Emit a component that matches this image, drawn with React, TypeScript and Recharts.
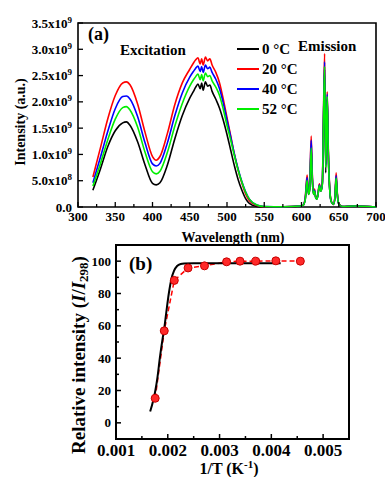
import React from 'react';
import { LineChart, Line, XAxis, YAxis, ReferenceArea, Legend } from 'recharts';

const SERIF = '"Liberation Serif", "Times New Roman", serif';

// (a) excitation / emission spectra, intensity in units of 1e9 a.u.
const wavelength = [
  320, 330, 340, 350, 360, 365, 370, 380, 390, 400,
  405, 410, 420, 430, 440, 450, 455, 458, 461, 464,
  466, 468, 471, 474, 477, 480, 485, 490, 495, 500,
  505, 510, 515, 520, 525, 530, 540, 550, 575, 598,
  602, 605, 607.5, 609.5, 611, 613, 614.5, 616, 617.5, 619,
  620.5, 622, 624, 626, 628, 629.5, 631, 632.5, 634.5, 636,
  638, 640, 643, 645, 646.5, 648, 650, 655, 670, 700,
];
const int0C = [
  0.32, 0.72, 1.15, 1.45, 1.6, 1.62, 1.55, 1.24, 0.8, 0.45,
  0.42, 0.46, 0.8, 1.3, 1.74, 2.07, 2.2, 2.28, 2.34, 2.25,
  2.36, 2.22, 2.38, 2.3, 2.32, 2.2, 2.05, 1.88, 1.65, 1.38,
  1.08, 0.78, 0.52, 0.32, 0.16, 0.07, 0.01, 0, 0.005, 0.02,
  0.03, 0.14, 0.48, 0.24, 0.33, 1.1, 0.52, 0.24, 0.3, 0.18,
  0.15, 0.22, 0.4, 0.3, 0.44, 1.58, 2.62, 0.65, 2.05, 0.98,
  0.3, 0.1, 0.05, 0.2, 0.54, 0.24, 0.06, 0.01, 0.02, 0,
];
const int20C = [
  0.57, 1.12, 1.68, 2.12, 2.36, 2.38, 2.32, 1.96, 1.42, 0.96,
  0.89, 0.96, 1.4, 1.95, 2.36, 2.62, 2.74, 2.8, 2.84, 2.72,
  2.82, 2.7, 2.85, 2.78, 2.82, 2.7, 2.56, 2.36, 2.05, 1.7,
  1.35, 1.0, 0.7, 0.45, 0.25, 0.12, 0.03, 0.005, 0.005, 0.02,
  0.03, 0.18, 0.61, 0.28, 0.4, 1.35, 0.62, 0.28, 0.34, 0.2,
  0.17, 0.25, 0.44, 0.32, 0.48, 1.75, 2.92, 0.86, 2.19, 1.1,
  0.33, 0.11, 0.05, 0.22, 0.65, 0.28, 0.07, 0.01, 0.02, 0,
];
const int40C = [
  0.46, 0.94, 1.44, 1.87, 2.1, 2.11, 2.05, 1.72, 1.22, 0.82,
  0.78, 0.83, 1.22, 1.74, 2.17, 2.47, 2.58, 2.64, 2.68, 2.58,
  2.67, 2.56, 2.7, 2.63, 2.66, 2.56, 2.43, 2.25, 1.98, 1.65,
  1.33, 1.0, 0.72, 0.48, 0.29, 0.15, 0.04, 0.01, 0.005, 0.02,
  0.03, 0.16, 0.56, 0.26, 0.37, 1.27, 0.58, 0.26, 0.32, 0.19,
  0.16, 0.23, 0.42, 0.31, 0.46, 1.68, 2.76, 0.8, 2.15, 1.05,
  0.31, 0.1, 0.05, 0.21, 0.6, 0.26, 0.06, 0.01, 0.02, 0,
];
const int52C = [
  0.4, 0.82, 1.28, 1.67, 1.89, 1.91, 1.84, 1.52, 1.04, 0.67,
  0.63, 0.68, 1.04, 1.54, 1.97, 2.3, 2.42, 2.48, 2.53, 2.42,
  2.52, 2.4, 2.55, 2.48, 2.5, 2.4, 2.28, 2.12, 1.86, 1.55,
  1.27, 0.97, 0.7, 0.47, 0.28, 0.15, 0.04, 0.01, 0.005, 0.02,
  0.03, 0.14, 0.51, 0.24, 0.33, 1.12, 0.52, 0.24, 0.3, 0.18,
  0.15, 0.22, 0.41, 0.3, 0.44, 1.62, 2.67, 0.75, 2.1, 1.0,
  0.3, 0.1, 0.05, 0.2, 0.55, 0.25, 0.06, 0.01, 0.02, 0,
];
const seriesNames = ['0 °C', '20 °C', '40 °C', '52 °C'];
const seriesColors = ['#000000', '#ff0000', '#0000ff', '#00ee00'];
const wlTicks = [300, 325, 350, 375, 400, 425, 450, 475, 500, 525, 550, 575, 600, 625, 650, 675, 700];
const intTicks = [0, 0.5, 1, 1.5, 2, 2.5, 3, 3.5];

// (b) relative intensity vs 1/T
const invT = [0.001757, 0.001932, 0.002126, 0.002392, 0.002709, 0.003136, 0.003395, 0.003699, 0.004087, 0.00456];
const relIntensity = [15.2, 56.9, 88.1, 95.8, 97.1, 99.6, 100, 100, 100.2, 100];
const invTFit = [0.00166, 0.00172, 0.00176, 0.0018, 0.00185, 0.0019, 0.00193, 0.00197, 0.00202, 0.00207, 0.00212, 0.00218, 0.00225, 0.00232, 0.0025, 0.003, 0.0035, 0.00418];
const relFit = [7, 14, 20, 28, 41, 52, 58, 68, 80, 89, 94, 97, 98.2, 98.5, 98.7, 98.7, 98.7, 98.7];
const invTTicks = [0.001, 0.0015, 0.002, 0.0025, 0.003, 0.0035, 0.004, 0.0045, 0.005, 0.0055];
const invTLabels = ['0.001', '0.002', '0.003', '0.004', '0.005'];
const relTicks = [0, 10, 20, 30, 40, 50, 60, 70, 80, 90, 100];

const spectra = wavelength.map((w, i) => ({
  w,
  t0: int0C[i],
  t20: int20C[i],
  t40: int40C[i],
  t52: int52C[i],
}));
const seriesKeys = ['t0', 't20', 't40', 't52'];
const measured = invT.map((x, i) => ({ x, y: relIntensity[i] }));
const fitted = invTFit.map((x, i) => ({ x, y: relFit[i] }));

const textStyle = { fontFamily: SERIF, fontWeight: 'bold', fill: '#000' } as const;

// inward ticks, labels every 50 nm
const WaveTick = (props: any) => {
  const { x, y, payload } = props;
  const v = payload.value;
  const major = v % 50 === 0;
  return (
    <g>
      <line x1={x} x2={x} y1={y} y2={y - (major ? 5 : 3)} stroke="#000" strokeWidth={1.3} />
      {major && (
        <text x={x} y={y + 14} textAnchor="middle" fontSize={13} {...textStyle}>{v}</text>
      )}
    </g>
  );
};

const IntensityTick = (props: any) => {
  const { x, y, payload } = props;
  const v = payload.value;
  let label: React.ReactNode;
  if (v === 0) label = '0.0';
  else if (v < 1) label = (<>{(v * 10).toFixed(1)}x10<tspan dy={-5} fontSize={9}>8</tspan></>);
  else label = (<>{v.toFixed(1)}x10<tspan dy={-5} fontSize={9}>9</tspan></>);
  return (
    <g>
      <line x1={x} x2={x + 5} y1={y} y2={y} stroke="#000" strokeWidth={1.3} />
      <text x={x - 6} y={y + 4.5} textAnchor="end" fontSize={13} {...textStyle}>{label}</text>
    </g>
  );
};

const InvTTick = (props: any) => {
  const { x, y, payload } = props;
  const v = payload.value;
  const lbl = invTLabels.find((s) => Math.abs(parseFloat(s) - v) < 1e-7);
  return (
    <g>
      <line x1={x} x2={x} y1={y} y2={y - (lbl ? 5 : 3)} stroke="#000" strokeWidth={1.5} />
      {lbl && (
        <text x={x} y={y + 17} textAnchor="middle" fontSize={17} {...textStyle}>{lbl}</text>
      )}
    </g>
  );
};

const RelTick = (props: any) => {
  const { x, y, payload } = props;
  const v = payload.value;
  const major = v % 20 === 0;
  return (
    <g>
      <line x1={x} x2={x + (major ? 5 : 3)} y1={y} y2={y} stroke="#000" strokeWidth={1.5} />
      {major && (
        <text x={x - 5} y={y + 4.5} textAnchor="end" fontSize={13} {...textStyle}>{v}</text>
      )}
    </g>
  );
};

const TempLegend = ({ payload }: any) => (
  <div style={{ fontFamily: SERIF, fontWeight: 'bold', fontSize: 15 }}>
    {(payload || []).map((entry: any) => (
      <div key={entry.value} style={{ height: 20, display: 'flex', alignItems: 'center' }}>
        <svg width={22} height={4}>
          <line x1={0} x2={22} y1={2} y2={2} stroke={entry.color} strokeWidth={2} />
        </svg>
        <span style={{ marginLeft: 3, lineHeight: '20px' }}>{entry.value}</span>
      </div>
    ))}
  </div>
);

export default function App() {
  return (
    <div style={{ position: 'absolute', left: 0, top: 0, width: 385, height: 477, background: '#fff', overflow: 'hidden' }}>
      <div style={{ position: 'absolute', left: 0, top: 0 }}>
        <LineChart width={385} height={245} data={spectra} margin={{ top: 23, right: 9, bottom: 0, left: 0 }}>
          <XAxis
            dataKey="w"
            type="number"
            domain={[300, 700]}
            ticks={wlTicks}
            interval={0}
            height={38}
            axisLine={false}
            tickLine={false}
            tickSize={0}
            tickMargin={0}
            tick={<WaveTick />}
          />
          <YAxis
            type="number"
            domain={[0, 3.5]}
            ticks={intTicks}
            interval={0}
            width={78}
            axisLine={false}
            tickLine={false}
            tickSize={0}
            tickMargin={0}
            tick={<IntensityTick />}
          />
          <ReferenceArea x1={300} x2={700} y1={0} y2={3.5} fill="none" stroke="#000" strokeWidth={1.6} />
          {seriesKeys.map((k, i) => (
            <Line
              key={k}
              dataKey={k}
              name={seriesNames[i]}
              type="monotone"
              stroke={seriesColors[i]}
              strokeWidth={1.6}
              dot={false}
              isAnimationActive={false}
            />
          ))}
          <Legend
            layout="vertical"
            align="center"
            verticalAlign="middle"
            content={<TempLegend />}
            wrapperStyle={{ left: 237, top: 39, width: 80, height: 80 }}
          />
        </LineChart>
      </div>

      <div style={{ position: 'absolute', left: 0, top: 230 }}>
        <LineChart width={385} height={247} margin={{ top: 15, right: 36, bottom: 0, left: 0 }}>
          <XAxis
            dataKey="x"
            type="number"
            domain={[0.001, 0.0055]}
            ticks={invTTicks}
            interval={0}
            height={38}
            axisLine={false}
            tickLine={false}
            tickSize={0}
            tickMargin={0}
            tick={<InvTTick />}
            allowDataOverflow
          />
          <YAxis
            dataKey="y"
            type="number"
            domain={[-10, 110]}
            ticks={relTicks}
            interval={0}
            width={116}
            axisLine={false}
            tickLine={false}
            tickSize={0}
            tickMargin={0}
            tick={<RelTick />}
            allowDataOverflow
          />
          <ReferenceArea x1={0.001} x2={0.0055} y1={-10} y2={110} fill="none" stroke="#000" strokeWidth={2} />
          <Line
            data={measured}
            dataKey="y"
            type="linear"
            stroke="#ff0000"
            strokeWidth={1.5}
            strokeDasharray="5 3"
            dot={{ r: 4, fill: '#ff2a2a', stroke: '#c80000', strokeWidth: 1, strokeDasharray: '' }}
            isAnimationActive={false}
          />
          <Line
            data={fitted}
            dataKey="y"
            type="monotone"
            stroke="#000"
            strokeWidth={2}
            dot={false}
            isAnimationActive={false}
          />
        </LineChart>
      </div>

      {/* titles and annotations */}
      <svg width={385} height={477} style={{ position: 'absolute', left: 0, top: 0, pointerEvents: 'none' }}>
        <text x={20} y={122} transform="rotate(-90 20 122)" textAnchor="middle" dominantBaseline="central" fontSize={14} {...textStyle}>
          Intensity (a.u.)
        </text>
        <text x={233} y={242} textAnchor="middle" fontSize={14} {...textStyle}>Wavelength (nm)</text>
        <text x={88} y={40} fontSize={18} {...textStyle}>(a)</text>
        <text x={120} y={55} fontSize={15} {...textStyle}>Excitation</text>
        <text x={298} y={51} fontSize={15} {...textStyle}>Emission</text>
        <text x={129} y={270} fontSize={19} {...textStyle}>(b)</text>
        <text x={78} y={355} transform="rotate(-90 78 355)" textAnchor="middle" dominantBaseline="central" fontSize={19} {...textStyle}>
          Relative intensity (<tspan fontStyle="italic">I</tspan>/<tspan fontStyle="italic">I</tspan>
          <tspan dy={5} fontSize={13}>298</tspan><tspan dy={-5}>)</tspan>
        </text>
        <text x={229} y={474} textAnchor="middle" fontSize={16} {...textStyle}>
          1/T (K<tspan dy={-6} fontSize={11}>-1</tspan><tspan dy={6}>)</tspan>
        </text>
      </svg>
    </div>
  );
}
